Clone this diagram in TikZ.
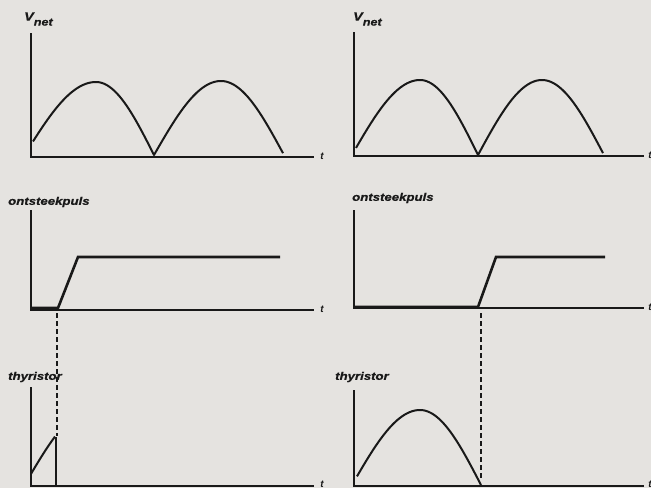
\documentclass[tikz,border=0pt]{standalone}
\usepackage{fontspec}
\setmainfont{Liberation Sans}
\newfontfamily\lblfont[FakeStretch=1.2,FakeBold=0.8]{Liberation Sans}
\begin{document}
\begin{tikzpicture}[x=1pt,y=-1pt,
  axis/.style={line width=1.7pt,draw=ink},
  wave/.style={line width=2pt,draw=ink,line join=round},
  pulse/.style={line width=2.6pt,draw=ink,line join=miter},
  guide/.style={line width=1.6pt,draw=ink,dash pattern=on 5pt off 3pt},
  lbl/.style={inner sep=0pt,anchor=west,text=ink,font=\lblfont\fontsize{11}{12}\selectfont\bfseries\itshape},
  tlbl/.style={inner sep=0pt,text=ink,font=\fontsize{10}{11}\selectfont\bfseries\itshape}]
\definecolor{paper}{RGB}{229,227,224}
\definecolor{ink}{RGB}{25,25,25}
\useasboundingbox (0,0) rectangle (651,488);
\fill[paper] (0,0) rectangle (651,488);

% ---------- top left: V_net ----------
\node[lbl] (vl) at (24,19) {\fontsize{12}{12}\selectfont V\raisebox{-5pt}{\fontsize{10.5}{12}\selectfont net}};
\coordinate (ayl1) at (31,33);
\coordinate (ol1) at (31,157);
\coordinate (axl1) at (314,157);
\draw[axis] (ayl1) -- (ol1) -- (axl1);
\node[tlbl] (tl1) at (322,156) {t};
\draw[wave] plot[domain=33:96,samples=40] (\x,{155-73*sin(90*(\x-24.5)/71.5)})
  -- plot[domain=96:154,samples=40] (\x,{155-73*cos(90*(\x-96)/58)})
  -- plot[domain=154:221,samples=40] (\x,{155-74*sin(90*(\x-154)/67)})
  -- plot[domain=221:283,samples=40] (\x,{155-74*cos(90*(\x-221)/63)});

% ---------- top right: V_net ----------
\node[lbl] (vr) at (353,19) {\fontsize{12}{12}\selectfont V\raisebox{-5pt}{\fontsize{10.5}{12}\selectfont net}};
\coordinate (ayr1) at (354,32);
\coordinate (or1) at (354,156);
\coordinate (axr1) at (644,156);
\draw[axis] (ayr1) -- (or1) -- (axr1);
\node[tlbl] (tr1) at (650,155) {t};
\draw[wave] plot[domain=356:420,samples=40] (\x,{155-75*sin(90*(\x-351.9)/68.1)})
  -- plot[domain=420:478,samples=40] (\x,{155-75*cos(90*(\x-420)/58)})
  -- plot[domain=478:542,samples=40] (\x,{155-75*sin(90*(\x-478)/64)})
  -- plot[domain=542:603,samples=40] (\x,{155-75*cos(90*(\x-542)/62)});

% ---------- middle left: ontsteekpuls ----------
\node[lbl] (pl) at (8,202) {ontsteekpuls};
\coordinate (ayl2) at (31,210);
\coordinate (ol2) at (31,310);
\coordinate (axl2) at (314,310);
\draw[axis] (ayl2) -- (ol2) -- (axl2);
\node[tlbl] (tl2) at (322,309) {t};
\coordinate (pl0) at (31,308);
\coordinate (pl1) at (58,308);
\coordinate (pl2) at (78,257);
\coordinate (pl3) at (280,257);
\draw[pulse] (pl0) -- (pl1) -- (pl2) -- (pl3);

% ---------- middle right: ontsteekpuls ----------
\node[lbl] (pr) at (352,198) {ontsteekpuls};
\coordinate (ayr2) at (354,210);
\coordinate (or2) at (354,308);
\coordinate (axr2) at (644,308);
\draw[axis] (ayr2) -- (or2) -- (axr2);
\node[tlbl] (tr2) at (650,307) {t};
\coordinate (pr0) at (354,307);
\coordinate (pr1) at (478,307);
\coordinate (pr2) at (496,257);
\coordinate (pr3) at (605,257);
\draw[pulse] (pr0) -- (pr1) -- (pr2) -- (pr3);

% ---------- bottom left: thyristor ----------
\node[lbl] (hl) at (8,377) {thyristor};
\coordinate (ayl3) at (31,387);
\coordinate (ol3) at (31,486);
\coordinate (axl3) at (314,486);
\draw[axis] (ayl3) -- (ol3) -- (axl3);
\node[tlbl] (tl3) at (322,484) {t};
\coordinate (cut) at (56,437);
\coordinate (cutb) at (56,486);
\draw[wave] plot[domain=31:55,samples=30] (\x,{485-78*sin(90*(\x-24.5)/71.5)});
\draw[wave] (cut) -- (cutb);

% ---------- bottom right: thyristor ----------
\node[lbl] (hr) at (335,377) {thyristor};
\coordinate (ayr3) at (354,390);
\coordinate (or3) at (354,486);
\coordinate (axr3) at (644,486);
\draw[axis] (ayr3) -- (or3) -- (axr3);
\node[tlbl] (tr3) at (650,484) {t};
\draw[wave] plot[domain=357:420,samples=40] (\x,{485-75*sin(90*(\x-352)/68)})
  -- plot[domain=420:481,samples=40] (\x,{485-75*cos(90*(\x-420)/61)});

% ---------- dashed guide lines ----------
\coordinate (gl0) at (57,313);
\coordinate (gl1) at (57,436);
\draw[guide] (gl0) -- (gl1);
\coordinate (gr0) at (481,313);
\coordinate (gr1) at (481,478);
\draw[guide] (gr0) -- (gr1);
\end{tikzpicture}
\end{document}
